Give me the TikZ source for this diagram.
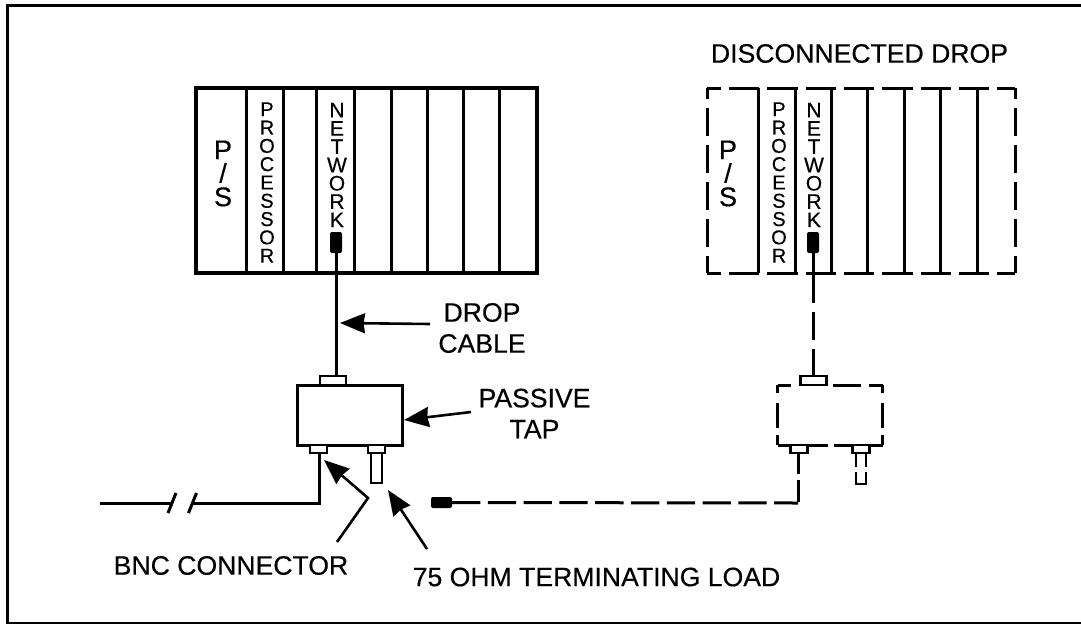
\documentclass[tikz,border=0pt]{standalone}
\usepackage{fontspec}
\setmainfont[FakeBold=0.4]{Liberation Sans}
\usetikzlibrary{positioning,arrows.meta}
\newcommand{\lblfont}{\fontsize{26.6}{31}\selectfont}
\newcommand{\procfont}{\fontsize{20}{18.3}\selectfont}
\newcommand{\netfont}{\fontsize{21}{18.3}\selectfont}
\newcommand{\psfont}{\fontsize{27}{23.5}\selectfont}
\tikzset{
  rack/.style={rectangle,minimum width=341pt,minimum height=185pt,inner sep=0pt,outer sep=0pt},
  rackB/.style={rack,minimum width=308pt},
  slotline/.style={line width=3pt},
  dashtop/.style={line width=3pt,dash pattern=on 30.3pt off 8pt,dash phase=16.3pt},
  dashside/.style={line width=3pt,dash pattern=on 28pt off 9pt,dash phase=17pt},
  tapbox/.style={rectangle,minimum width=105pt,minimum height=60pt,inner sep=0pt,outer sep=0pt},
  conn/.style={rectangle,draw,fill=white,line width=2.6pt,minimum width=26pt,minimum height=9pt,inner sep=0pt,outer sep=0pt},
  connS/.style={conn,minimum width=17pt,minimum height=8pt},
  loadbox/.style={rectangle,draw,fill=white,line width=2.6pt,minimum width=11pt,minimum height=30pt,inner sep=0pt,outer sep=0pt},
  plug/.style={rectangle,fill=black,rounded corners=2pt,minimum width=12pt,minimum height=21pt,inner sep=0pt,outer sep=0pt},
  plugend/.style={plug,minimum width=21pt,minimum height=11pt},
  wire/.style={line width=3pt},
  lbl/.style={font=\lblfont,align=center,inner sep=0pt},
  callout/.style={line width=2.6pt,-{Stealth[length=25pt,width=20pt,inset=1.5pt]}},
}
\begin{document}
\begin{tikzpicture}[x=1pt,y=-1pt]
  \useasboundingbox (0,0) rectangle (1081,624);
  \draw[line width=3pt] (1081,5.5) -- (7.5,5.5) -- (7.5,622);
  \draw[line width=2pt] (6,623) -- (1081,623);

  \node[rack,draw,line width=3.2pt] (lrack) at (366.5,180.5) {};
  \foreach \sx in {246,283,316,354,391,427,463,499}
    \draw[slotline] (\sx,0 |- lrack.north) -- (\sx,0 |- lrack.south);
  \node[font=\psfont,align=center,inner sep=0pt] (lps) at (223,173.5) {P\\/\\S};
  \node[font=\procfont,align=center,inner sep=0pt] (lproc) at (267,182.5) {P\\R\\O\\C\\E\\S\\S\\O\\R};
  \node[font=\netfont,align=center,inner sep=0pt] (lnet) at (337,165) {N\\E\\T\\W\\O\\R\\K};
  \node[plug] (lplug) at (336,242.5) {};
  \node[tapbox,draw,line width=3pt] (ltap) [below=112pt of lrack,xshift=-17pt] {};
  \node[conn] (ltop) [above right=0pt and 23pt of ltap.north west] {};
  \node[connS] (lcL) [below right=0pt and 13pt of ltap.south west] {};
  \node[connS] (lcR) [below right=0pt and 71pt of ltap.south west] {};
  \node[loadbox] (lload) [below=0pt of lcR] {};
  \coordinate (lbend) at (319,503);
  \coordinate (cut1) at (172,503);
  \coordinate (cut2) at (192.5,503);
  \coordinate (cableend) at (100,503);
  \draw[wire] (lplug.south) -- (lplug.south |- ltop.north);
  \draw[wire,line join=miter] (lbend |- lcL.south) -- (lbend) -- (cut2);
  \draw[wire] (cut1) -- (cableend);
  \draw[wire] ([shift={(-4,10)}]cut1) -- ([shift={(4,-10)}]cut1);
  \draw[wire] ([shift={(-4,10)}]cut2) -- ([shift={(4,-10)}]cut2);

  \node[rackB] (rrack) at (861,180.5) {};
  \foreach \sx in {758,795,831,867,904,940,977}
    \draw[slotline] (\sx,0 |- rrack.north) -- (\sx,0 |- rrack.south);
  \draw[dashtop] (rrack.north west) -- (rrack.north east);
  \draw[dashtop] (rrack.south west) -- (rrack.south east);
  \draw[dashside] (rrack.north west) -- (rrack.south west);
  \draw[dashside] (rrack.north east) -- (rrack.south east);
  \node[font=\psfont,align=center,inner sep=0pt] (rps) at (728,173.5) {P\\/\\S};
  \node[font=\procfont,align=center,inner sep=0pt] (rproc) at (779,182.5) {P\\R\\O\\C\\E\\S\\S\\O\\R};
  \node[font=\netfont,align=center,inner sep=0pt] (rnet) at (814,165) {N\\E\\T\\W\\O\\R\\K};
  \node[plug] (rplug) at (813,242.5) {};
  \node[tapbox] (rtap) [below=112pt of rrack,xshift=-31pt] {};
  \draw[line width=3pt,dash pattern=on 13pt off 42pt on 28pt off 8pt on 16pt] (rtap.north west) -- (rtap.north east);
  \draw[line width=3pt,dash pattern=on 50pt off 6pt on 50pt] (rtap.south west) -- (rtap.south east);
  \draw[line width=3pt,dash pattern=on 8pt off 10pt on 25pt off 7pt on 10pt] (rtap.north west) -- (rtap.south west);
  \draw[line width=3pt,dash pattern=on 8pt off 10pt on 25pt off 7pt on 10pt] (rtap.north east) -- (rtap.south east);
  \node[conn] (rtop) [above right=0pt and 23pt of rtap.north west] {};
  \node[connS] (rcL) [below right=0pt and 13pt of rtap.south west] {};
  \node[connS] (rcR) [below right=0pt and 75pt of rtap.south west] {};
  \node[plugend] (rend) at (441.5,502.5) {};
  \coordinate (rbend) at (798,503);
  \coordinate (ruA) at (856,453);
  \coordinate (ruB) at (866,453);
  \draw[wire] (rplug.south) -- (rplug.south |- rrack.south);
  \draw[wire,dash pattern=on 28pt off 9pt] (rplug.south |- rrack.south) ++(0,2) -- (rplug.south |- rtop.north);
  \draw[wire,dash pattern=on 21pt off 6pt on 22pt] (rbend |- rcL.south) -- (rbend);
  \draw[wire,dash pattern=on 28.3pt off 7.5pt] (rend.east) -- (rbend);
  \draw[line width=2.6pt] (ruA) -- ++(0,14);
  \draw[line width=2.6pt] (ruB) -- ++(0,14);
  \draw[line width=2.6pt] (ruA) ++(0,19) -- ++(0,12) -- ++(10,0) -- ++(0,-12);

  \node[lbl] (ldrop) at (482,328) {DROP\\CABLE};
  \node[lbl] (lpass) at (534.5,413.5) {PASSIVE\\TAP};
  \node[lbl] (lbnc) at (231,565.5) {BNC CONNECTOR};
  \node[lbl] (lohm) at (596.5,577) {75 OHM TERMINATING LOAD};
  \node[lbl] (ldisc) at (859.5,53.5) {DISCONNECTED DROP};

  \coordinate (dropT) at (430,324);
  \coordinate (dropH) at (340,323);
  \coordinate (passT) at (471,412);
  \coordinate (passH) at (404,420);
  \coordinate (bncT) at (337,542);
  \coordinate (bncE) at (368,498);
  \coordinate (bncH) at (324,460);
  \coordinate (ohmT) at (427,549);
  \coordinate (ohmH) at (388,490);
  \draw[callout] (dropT) -- (dropH);
  \draw[callout] (passT) -- (passH);
  \draw[callout,line join=miter] (bncT) -- (bncE) -- (bncH);
  \draw[callout] (ohmT) -- (ohmH);
\end{tikzpicture}
\end{document}
